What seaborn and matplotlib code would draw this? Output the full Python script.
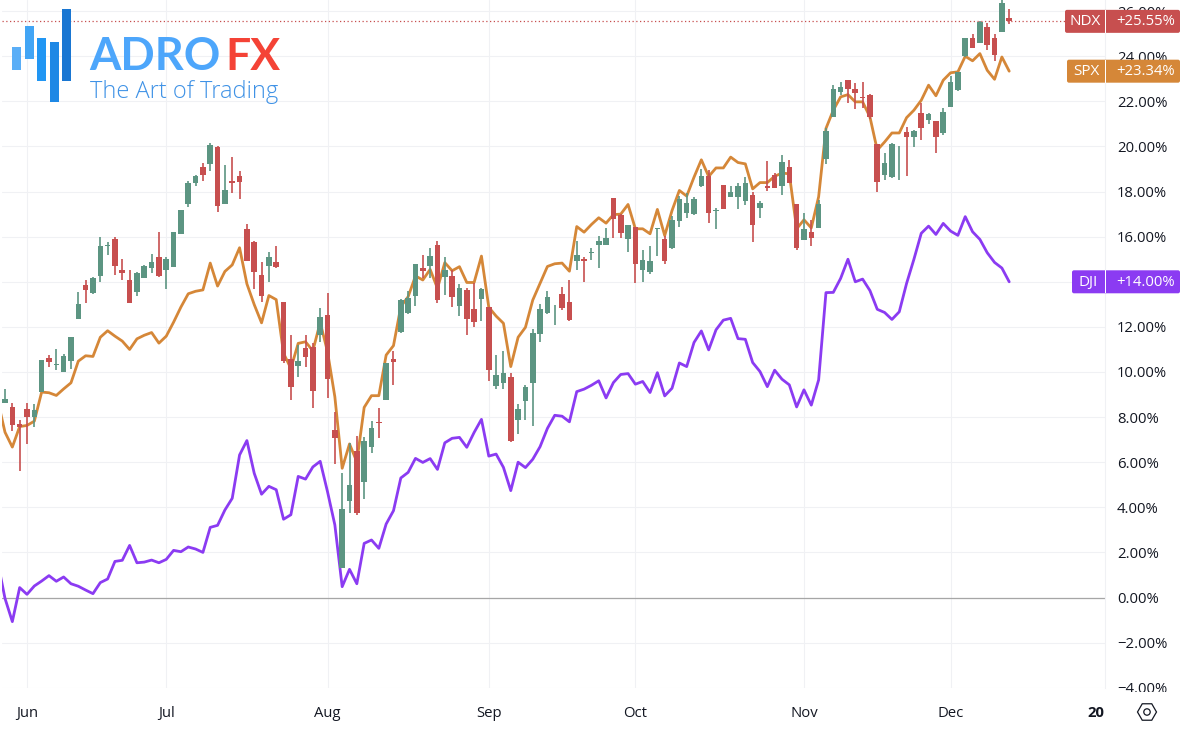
import matplotlib
matplotlib.use('Agg')
import matplotlib.pyplot as plt
import seaborn as sns
from matplotlib.patches import Rectangle, FancyBboxPatch, RegularPolygon, Circle
from matplotlib.transforms import IdentityTransform, Bbox

# NDX candles, % change
ndx_open = [8.62,8.47,7.70,8.38,8.00,9.10,10.63,10.30,10.00,10.48,
            12.36,13.88,13.50,14.27,15.58,15.90,14.52,14.07,13.54,14.19,
            14.62,15.08,14.53,14.65,16.10,17.43,18.39,19.07,19.22,19.97,
            17.43,18.46,18.71,16.36,15.76,14.32,14.68,14.87,13.10,10.56,
            10.28,11.06,11.09,11.64,12.53,7.41,1.29,4.29,6.51,5.13,
            6.69,7.78,8.75,10.57,11.77,12.60,13.38,14.61,14.71,15.63,
            14.23,14.26,12.94,13.63,12.79,13.24,12.87,9.36,9.53,9.78,
            7.87,8.71,9.53,11.68,12.60,12.74,13.47,13.10,14.94,15.03,
            15.27,15.61,15.65,17.72,16.98,15.88,16.41,14.53,14.43,16.33,
            15.88,15.52,16.69,17.07,17.00,18.24,18.71,17.13,18.31,17.77,
            17.75,17.60,17.87,17.27,18.23,18.74,18.24,19.08,17.43,15.86,
            16.19,16.37,19.45,21.33,22.42,22.94,22.54,22.20,22.27,20.10,
            18.74,18.64,20.01,20.64,20.43,21.48,21.16,21.11,20.58,21.76,
            22.52,24.03,24.80,24.60,25.28,24.82,25.08,25.72]
ndx_close = [8.81,7.65,7.58,8.00,8.32,10.55,10.43,10.37,10.73,11.54,
             13.02,13.64,14.16,15.57,15.65,14.68,14.37,13.05,14.41,14.68,
             14.90,14.25,15.03,16.19,17.20,18.40,18.67,18.74,20.06,17.34,
             18.05,18.37,18.42,14.94,14.43,13.36,15.12,14.65,10.50,9.35,
             10.47,10.68,9.17,12.44,9.70,7.07,3.92,4.97,3.73,6.92,
             7.50,7.72,10.38,10.45,13.19,13.30,14.79,14.49,15.14,13.19,
             14.52,13.31,13.71,12.36,12.22,13.66,10.10,9.87,9.94,6.95,
             8.37,9.35,11.71,12.79,13.31,12.77,12.83,12.31,15.21,14.91,
             15.31,15.82,15.96,16.78,16.16,16.50,14.80,14.97,14.94,16.39,
             14.94,16.76,17.69,17.50,17.69,18.67,17.03,17.19,17.21,18.00,
             18.23,18.36,16.50,17.50,18.18,18.14,19.33,18.37,15.48,16.32,
             15.93,17.44,20.69,22.53,22.62,22.55,22.38,22.15,21.32,18.42,
             19.28,20.13,20.03,20.43,20.67,20.80,21.46,20.44,21.55,22.88,
             23.29,24.82,24.39,25.54,24.49,24.06,26.37,25.55]
ndx_high = [9.25,8.62,7.85,8.62,8.56,10.55,10.75,11.00,10.78,11.57,
            13.55,14.06,14.20,16.00,15.76,16.00,14.99,14.52,14.44,14.75,
            15.25,16.23,15.10,16.22,17.20,18.46,18.74,19.28,20.15,20.04,
            19.17,19.53,18.91,16.57,15.82,14.87,15.31,15.58,13.12,11.64,
            11.20,11.64,11.27,12.82,13.49,8.21,5.50,6.84,7.14,7.10,
            7.84,8.39,10.38,10.93,13.24,13.58,14.80,15.19,15.48,15.79,
            15.08,14.52,13.90,13.71,13.93,13.71,12.87,10.75,10.93,9.94,
            8.56,9.44,11.89,13.01,13.58,12.97,13.79,14.06,15.83,15.09,
            15.51,16.04,16.38,17.72,17.01,16.53,16.41,15.39,15.58,16.39,
            16.05,16.90,17.81,17.96,17.75,19.01,18.94,17.28,18.31,18.23,
            18.39,18.64,17.97,17.60,19.35,18.83,19.62,19.38,17.43,17.06,
            16.76,17.62,20.84,22.72,22.87,22.97,22.80,22.86,22.33,20.10,
            19.73,20.16,20.04,20.86,20.75,21.91,21.49,21.11,21.70,23.12,
            23.32,24.83,24.98,25.57,25.48,25.01,26.49,26.10]
ndx_low = [8.62,7.38,5.63,6.82,7.58,9.10,10.20,10.10,10.00,10.12,
           12.33,13.08,13.45,13.97,15.20,14.32,14.06,13.05,13.36,14.16,
           14.41,14.20,13.67,14.65,16.10,17.31,18.24,18.46,18.92,17.09,
           17.43,17.93,17.68,14.94,13.66,13.10,14.01,14.60,10.41,8.76,
           9.80,10.23,8.42,11.31,8.83,5.90,1.29,3.73,3.67,4.35,
           6.39,7.06,8.75,9.42,11.74,12.56,12.94,14.15,14.15,13.04,
           13.41,12.90,12.50,11.64,11.98,12.25,9.61,9.26,9.26,6.89,
           7.25,7.87,7.60,11.31,12.57,12.08,12.73,12.28,14.53,13.98,
           14.97,14.62,15.65,15.95,15.94,15.31,13.94,14.00,14.35,15.14,
           14.77,15.45,16.41,16.81,16.98,18.20,16.62,16.35,17.21,17.75,
           17.25,17.41,15.76,16.81,18.02,18.14,17.87,18.37,15.43,15.85,
           15.57,16.37,19.22,21.33,22.27,21.93,21.65,21.72,21.24,17.99,
           18.50,18.60,18.50,18.70,19.99,20.28,20.99,19.73,20.53,21.76,
           22.44,23.97,24.36,24.60,24.30,23.78,25.08,25.42]

# line series start one session before the first candle
spx_line = [8.75,7.33,6.67,7.58,7.63,7.82,9.11,9.08,8.96,9.25,9.52,
            10.48,10.72,10.69,11.54,11.83,11.59,11.37,11.00,11.47,11.63,
            11.75,11.28,11.59,12.21,12.88,13.47,13.58,13.64,14.83,13.81,
            14.46,14.75,15.51,13.91,12.99,12.18,13.39,13.21,10.83,10.16,
            11.27,11.34,10.94,12.20,10.90,8.90,5.73,6.81,6.02,8.43,
            8.95,8.95,10.75,11.17,12.90,13.34,14.26,14.08,14.55,13.71,
            14.85,14.49,14.67,13.97,13.97,15.14,12.87,12.48,12.16,10.24,
            11.54,11.98,13.19,13.93,14.68,14.80,14.83,14.47,16.45,16.20,
            16.54,16.84,16.60,16.98,17.00,17.43,16.35,16.35,16.13,17.21,
            16.05,17.16,18.05,17.80,18.64,19.41,18.67,19.05,19.05,19.53,
            19.29,19.23,18.12,18.40,18.40,18.68,18.82,18.79,16.35,16.75,
            16.39,17.77,20.80,21.61,22.20,22.30,21.98,21.98,21.31,19.84,
            20.20,20.60,20.60,21.28,21.61,22.05,22.72,22.25,22.94,23.27,
            23.31,24.00,23.80,24.12,23.38,22.98,23.97,23.34]
dji_line = [1.59,-0.04,-1.07,0.44,0.14,0.51,0.73,0.97,0.72,0.91,0.61,
            0.50,0.33,0.17,0.66,0.82,1.60,1.65,2.31,1.54,1.57,
            1.66,1.54,1.69,2.09,2.03,2.24,2.15,2.00,3.11,3.20,
            3.88,4.40,6.32,6.96,5.51,4.58,4.93,4.78,3.47,3.67,
            5.37,5.25,5.79,6.04,4.69,3.22,0.48,1.25,0.61,2.40,
            2.55,2.18,3.26,3.85,5.30,5.55,6.17,5.99,6.16,5.68,
            6.86,7.06,7.10,6.66,7.32,7.90,6.27,6.36,5.77,4.74,
            6.00,5.76,6.13,6.69,7.50,8.08,8.04,7.79,9.13,9.24,
            9.41,9.61,8.85,9.53,9.89,9.93,9.46,9.58,9.09,9.97,
            8.94,9.28,10.40,10.24,11.31,11.82,10.98,11.87,12.30,12.38,
            11.48,11.45,10.42,10.02,9.35,10.08,9.68,9.43,8.45,9.21,
            8.53,9.65,13.52,13.53,14.15,15.00,14.00,14.12,13.61,12.78,
            12.64,12.33,12.67,13.93,15.00,16.15,16.47,16.10,16.59,16.25,
            16.06,16.89,16.22,15.88,15.29,14.86,14.61,14.00]

# the 14.00% label sits fully under the DJI tag
y_ticks = [-4,-2,0,2,4,6,8,10,12,14,16,18,20,22,24,26]
y_labels = ['−4.00%','−2.00%','0.00%','2.00%','4.00%','6.00%','8.00%','10.00%',
            '12.00%','','16.00%','18.00%','20.00%','22.00%','24.00%','26.00%']
x_ticks = [3,22,44,66,86,109,129,148.8]
x_labels = ['Jun','Jul','Aug','Sep','Oct','Nov','Dec','20']

GREEN = '#5c9582'
RED = '#c74f4f'
ORANGE = '#d58738'
PURPLE = '#8b3bf2'
GRID = '#f0f1f4'
TEXT = '#131722'
FONT = ['Open Sans', 'DejaVu Sans']
W, H = 1184, 730

sns.set_theme(style='white')
plt.rcParams['font.family'] = FONT

fig = plt.figure(figsize=(W/100, H/100), dpi=100, facecolor='white')
ax = fig.add_axes([2/W, (H-688)/H, 1103/W, 688/H])

days = list(range(len(ndx_open)))
line_days = [d-1 for d in range(len(spx_line))]

sns.lineplot(x=line_days, y=spx_line, color=ORANGE, linewidth=2.0, ax=ax, zorder=3)
sns.lineplot(x=line_days, y=dji_line, color=PURPLE, linewidth=2.0, ax=ax, zorder=3)

colors = [GREEN if c >= o else RED for o, c in zip(ndx_open, ndx_close)]
ax.vlines(days, ndx_low, ndx_high, colors=colors, linewidth=1.2, zorder=4)
ax.bar(days, [abs(c-o) for o, c in zip(ndx_open, ndx_close)],
       bottom=[min(o, c) for o, c in zip(ndx_open, ndx_close)],
       width=0.76, color=colors, linewidth=0, zorder=4)

ax.axhline(0, color='#a6a6a6', linewidth=0.9, zorder=2)
ax.axhline(ndx_close[-1], color=RED, linewidth=0.9, linestyle=(0, (1, 2)), zorder=2)

ax.set_xlim(-3/7.33, 1100/7.33)
ax.set_ylim(-90.5/22.55, 597.5/22.55)

ax.set_yticks(y_ticks)
ax.set_yticklabels(y_labels)
ax.yaxis.tick_right()
ax.set_xticks(x_ticks)
ax.set_xticklabels(x_labels)
ax.set_axisbelow(True)
ax.grid(True, color=GRID, linewidth=0.8)
ax.tick_params(axis='y', length=0, pad=8.5, labelsize=10.7, labelcolor=TEXT)
ax.tick_params(axis='x', length=2, color=GRID, pad=11, labelsize=10.7, labelcolor=TEXT)
for s in ['top', 'left', 'bottom']:
    ax.spines[s].set_visible(False)
ax.spines['right'].set_color(GRID)
ax.spines['right'].set_linewidth(0.8)

# bottom label is cut by the time scale
ax.get_yticklabels()[0].set_clip_box(Bbox([[1100, H-692], [W, H]]))
ax.get_yticklabels()[0].set_clip_on(True)

last = ax.get_xticklabels()[-1]
last.set_fontweight('bold')
ax.xaxis.get_major_ticks()[-1].gridline.set_visible(False)
ax.xaxis.get_major_ticks()[-1].tick1line.set_visible(False)

px = IdentityTransform()


def tag(name, value, color, left):
    yc = ax.transData.transform((0, value))[1]
    fig.add_artist(FancyBboxPatch((left+2, yc-9.5), 1180-left-4, 19,
                                  boxstyle='round,pad=2', transform=px,
                                  facecolor=color, edgecolor='none', zorder=5))
    fig.add_artist(Rectangle((1105, yc-11.5), 1, 23, transform=px,
                             facecolor='white', edgecolor='none', zorder=6))
    fig.text((left+1105)/2, yc-0.5, name, transform=px, color='white', fontsize=11,
             fontweight=500, ha='center', va='center', zorder=7)
    fig.text(1116.5, yc-0.5, f'+{value:.2f}%', transform=px, color='white', fontsize=10.7,
             fontweight=500, ha='left', va='center', zorder=7)


tag('NDX', ndx_close[-1], RED, 1065)
tag('SPX', spx_line[-1], ORANGE, 1067)
tag('DJI', dji_line[-1], PURPLE, 1072)

# logo
logo_bars = [(12, 47, 70, '#5aaef7'), (25, 26, 59, '#42a5f5'), (37, 38, 81, '#2196f3'),
             (50, 42, 102, '#1e88e5'), (62, 9, 81, '#1976d2')]
for x0, top, bot, col in logo_bars:
    fig.add_artist(Rectangle((x0, H-bot), 8.6, bot-top, transform=px,
                             facecolor=col, edgecolor='none', zorder=5))
fig.text(89, H-69.5, 'ADRO', transform=px, color='#4da6fb', fontsize=32.5, fontweight='bold',
         family='Lato', ha='left', va='baseline', zorder=5)
fig.text(225, H-69.5, 'FX', transform=px, color='#f44336', fontsize=32, fontweight='bold',
         family='Lato', ha='left', va='baseline', zorder=5)
fig.text(89.5, H-98.5, 'The Art of Trading', transform=px, color='#3f92e6', fontsize=17,
         fontweight=300, ha='left', va='baseline', zorder=5)

# settings icon
fig.add_artist(RegularPolygon((1147, H-712), 6, radius=9.5, orientation=3.14159/2, transform=px,
                              facecolor='none', edgecolor=TEXT, linewidth=0.9, zorder=5))
fig.add_artist(Circle((1147, H-712), 3.2, transform=px,
                      facecolor='none', edgecolor=TEXT, linewidth=0.9, zorder=5))

fig.savefig('out.png', dpi=100, facecolor='white')
